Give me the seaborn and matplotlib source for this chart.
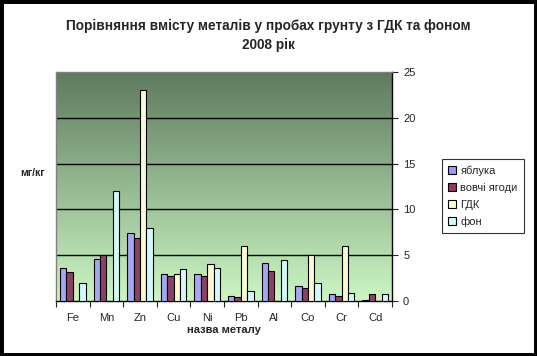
import numpy as np
import pandas as pd
import matplotlib
matplotlib.use('Agg')
import matplotlib.pyplot as plt
import seaborn as sns

# metals and measured values (mg/kg)
metals = ['Fe', 'Mn', 'Zn', 'Cu', 'Ni', 'Pb', 'Al', 'Co', 'Cr', 'Cd']
apples = [3.6, 4.6, 7.4, 3.0, 2.9, 0.6, 4.2, 1.6, 0.8, 0.1]
berries = [3.2, 5.0, 6.9, 2.7, 2.7, 0.4, 3.3, 1.4, 0.6, 0.8]
gdk = [0, 0, 23.0, 3.0, 4.0, 6.0, 0, 5.0, 6.0, 0]
background = [2.0, 12.0, 8.0, 3.5, 3.6, 1.1, 4.5, 2.0, 0.85, 0.8]

series = ['яблука', 'вовчі ягоди', 'ГДК', 'фон']
colors = ['#9999FF', '#993366', '#FFFFCC', '#CCFFFF']

df = pd.DataFrame({'metal': metals * 4,
                   'series': np.repeat(series, len(metals)),
                   'value': apples + berries + gdk + background})

sns.set_style('white')
plt.rcParams['font.family'] = ['Liberation Sans', 'DejaVu Sans']

fig = plt.figure(figsize=(5.37, 3.56), dpi=100)
ax = fig.add_axes([0.1043, 0.1545, 0.6257, 0.6433])

# green gradient background
grad = np.linspace(0, 1, 256).reshape(-1, 1)
cmap = matplotlib.colors.LinearSegmentedColormap.from_list('g', ['#CCF6C4', '#5E7A5E'])
ax.imshow(grad, aspect='auto', cmap=cmap, origin='lower',
          extent=[-0.5, 9.5, 0, 25], zorder=0)

sns.barplot(data=df, x='metal', y='value', hue='series', palette=colors,
            width=0.76, edgecolor='black', linewidth=0.8, ax=ax, zorder=3,
            legend=True)

ax.set_xlim(-0.5, 9.5)
ax.set_ylim(0, 25)
for v in [5, 10, 15, 20]:
    ax.axhline(v, color='black', lw=1, zorder=1)

ax.yaxis.tick_right()
ax.set_yticks([0, 5, 10, 15, 20, 25])
ax.tick_params(axis='y', direction='out', length=4, width=0.8, labelsize=8,
               right=True, left=False, pad=4)
ax.set_xticks(range(len(metals)))
ax.set_xticklabels(metals)
ax.set_xticks(np.arange(-0.5, 10, 1), minor=True)
ax.tick_params(axis='x', which='major', length=0, labelsize=8, pad=9)
ax.tick_params(axis='x', which='minor', length=4, width=0.8, bottom=True)

for s in ['left', 'top']:
    ax.spines[s].set_color('#808080')
    ax.spines[s].set_linewidth(1)
for s in ['right', 'bottom']:
    ax.spines[s].set_color('black')
    ax.spines[s].set_linewidth(1)

ax.set_xlabel('назва металу', fontsize=8, fontweight='bold', labelpad=1)
ax.set_ylabel('')
fig.text(0.06, 0.515, 'мг/кг', fontsize=7.5, fontweight='bold',
         ha='center', va='center')

fig.text(0.5, 0.9, 'Порівняння вмісту металів у пробах грунту з ГДК та фоном\n2008 рік',
         ha='center', va='center', fontsize=9.8, fontweight='bold', linespacing=1.45)

ax.legend_.remove()
handles = [matplotlib.patches.Patch(facecolor=c, edgecolor='black', lw=0.8) for c in colors]
leg = fig.legend(handles, series, loc='upper left', bbox_to_anchor=(0.813, 0.568),
                 fontsize=8, frameon=True, fancybox=False, edgecolor='black',
                 handlelength=0.7, handleheight=0.7, handletextpad=0.4,
                 labelspacing=0.62, borderpad=0.55)
leg.get_frame().set_linewidth(0.8)

# black frame round the figure
fig.patches.append(matplotlib.patches.Rectangle((0, 0), 1, 1, transform=fig.transFigure,
                                                fill=False, edgecolor='black', lw=5))

fig.savefig('out.png', dpi=100)
